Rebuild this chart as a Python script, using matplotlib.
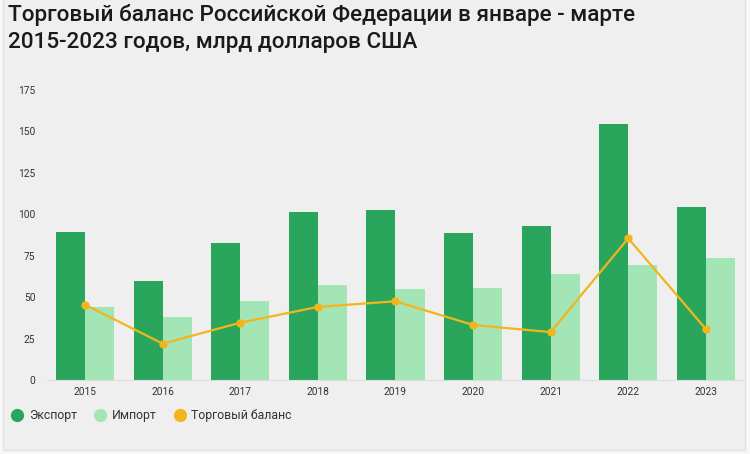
import matplotlib
matplotlib.use("Agg")
import matplotlib.pyplot as plt
import numpy as np
from matplotlib.lines import Line2D
from matplotlib.patches import Rectangle

years = ["2015", "2016", "2017", "2018", "2019", "2020", "2021", "2022", "2023"]
export = [89.5, 59.7, 82.5, 101.2, 102.4, 88.7, 92.9, 154.7, 104.6]
imports = [44.1, 37.8, 47.9, 57.1, 54.9, 55.5, 64.0, 69.2, 73.8]
balance = [45.4, 21.9, 34.6, 44.1, 47.5, 33.2, 28.9, 85.5, 30.8]
yticks = [0, 25, 50, 75, 100, 125, 150, 175]

title = "Торговый баланс Российской Федерации в январе - марте\n2015-2023 годов, млрд долларов США"
labels = ["Экспорт", "Импорт", "Торговый баланс"]

c_exp = "#2aa65c"
c_imp = "#a4e5b6"
c_bal = "#f2b51c"
bg = "#efefef"

plt.rcParams['font.family'] = ['Roboto', 'DejaVu Sans']

fig = plt.figure(figsize=(7.5, 4.54), dpi=100)
fig.patch.set_facecolor("#f8f8f8")
fig.patches.append(Rectangle((3/750, 4/454), 742/750, 452/454, transform=fig.transFigure,
                             facecolor=bg, edgecolor="#e2e2e2", lw=1, zorder=-10))

ax = fig.add_axes([48/750, (454-380)/454, (743-48)/750, 290/454])
ax.set_facecolor("none")
x = np.arange(len(years))
w = 0.375
ax.bar(x - w/2, export, width=w, color=c_exp, zorder=2)
ax.bar(x + w/2, imports, width=w, color=c_imp, zorder=2)
ax.plot(x, balance, color=c_bal, lw=1.6, marker="o", ms=5, zorder=3)

ax.set_xlim(-0.48, len(years) - 0.52)
ax.set_ylim(0, 175)
ax.set_yticks(yticks)
ax.set_yticklabels([str(t) for t in yticks], fontsize=7.3, color="#333333")
ax.set_xticks(x)
ax.set_xticklabels(years, fontsize=7.3, color="#333333")
ax.tick_params(axis="both", length=0)
ax.tick_params(axis="y", pad=9)
ax.tick_params(axis="x", pad=5)
for s in ["top", "right", "left"]:
    ax.spines[s].set_visible(False)
ax.spines["bottom"].set_color("#dddddd")
ax.spines["bottom"].set_linewidth(0.8)

fig.text(8/750, 1 - 4/454, title, fontsize=16.2, fontweight="medium", va="top", ha="left",
         color="#1a1a1a", linespacing=1.35)

handles = [Line2D([], [], ls="none", marker="o", ms=8.5, color=c) for c in (c_exp, c_imp, c_bal)]
leg = fig.legend(handles, labels, loc="center left", bbox_to_anchor=(5/750, 1 - 416/454),
                 ncol=3, frameon=False, fontsize=8.8, handletextpad=0.35, columnspacing=1.3,
                 handlelength=1.2, borderaxespad=0)
for t in leg.get_texts():
    t.set_color("#333333")

fig.savefig("out.png", dpi=100, facecolor=fig.get_facecolor())
